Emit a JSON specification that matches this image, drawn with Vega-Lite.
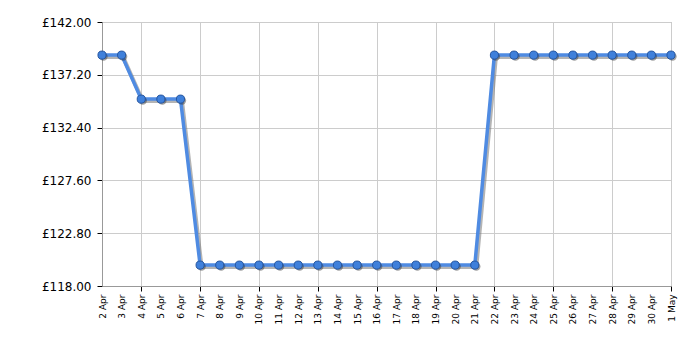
{
  "$schema": "https://vega.github.io/schema/vega-lite/v6.json",
  "width": 569,
  "height": 264,
  "autosize": {"type": "none"},
  "padding": {"left": 102, "top": 22, "right": 29, "bottom": 64},
  "background": "white",
  "config": {
    "view": {"stroke": "#aaaaaa", "strokeWidth": 1},
    "font": "DejaVu Sans"
  },
  "data": {
    "values": [
      {"date": "2024-04-02", "price": 138.99},
      {"date": "2024-04-03", "price": 138.99},
      {"date": "2024-04-04", "price": 134.99},
      {"date": "2024-04-05", "price": 134.99},
      {"date": "2024-04-06", "price": 134.99},
      {"date": "2024-04-07", "price": 119.9},
      {"date": "2024-04-08", "price": 119.9},
      {"date": "2024-04-09", "price": 119.9},
      {"date": "2024-04-10", "price": 119.9},
      {"date": "2024-04-11", "price": 119.9},
      {"date": "2024-04-12", "price": 119.9},
      {"date": "2024-04-13", "price": 119.9},
      {"date": "2024-04-14", "price": 119.9},
      {"date": "2024-04-15", "price": 119.9},
      {"date": "2024-04-16", "price": 119.9},
      {"date": "2024-04-17", "price": 119.9},
      {"date": "2024-04-18", "price": 119.9},
      {"date": "2024-04-19", "price": 119.9},
      {"date": "2024-04-20", "price": 119.9},
      {"date": "2024-04-21", "price": 119.9},
      {"date": "2024-04-22", "price": 138.99},
      {"date": "2024-04-23", "price": 138.99},
      {"date": "2024-04-24", "price": 138.99},
      {"date": "2024-04-25", "price": 138.99},
      {"date": "2024-04-26", "price": 138.99},
      {"date": "2024-04-27", "price": 138.99},
      {"date": "2024-04-28", "price": 138.99},
      {"date": "2024-04-29", "price": 138.99},
      {"date": "2024-04-30", "price": 138.99},
      {"date": "2024-05-01", "price": 138.99}
    ]
  },
  "encoding": {
    "x": {
      "field": "date",
      "type": "temporal",
      "scale": {"type": "utc", "nice": false, "padding": 0},
      "axis": {
        "title": null,
        "tickCount": {"interval": "day", "step": 1},
        "labelExpr": "utcFormat(datum.value, '%-d %b')",
        "labelAngle": 270,
        "labelAlign": "right",
        "labelBaseline": "middle",
        "labelFontSize": 9,
        "labelColor": "#000000",
        "labelPadding": 3,
        "labelOverlap": false,
        "labelFlush": false,
        "domainColor": "#999999",
        "grid": true,
        "gridColor": {"condition": {"test": "round((datum.value - 1711929600000)/86400000) % 3 == 0", "value": "#cccccc"}, "value": "transparent"},
        "tickColor": {"condition": {"test": "round((datum.value - 1711929600000)/86400000) % 3 == 0", "value": "#000000"}, "value": "transparent"},
        "tickSize": 5
      }
    },
    "y": {
      "field": "price",
      "type": "quantitative",
      "scale": {"domain": [118, 142], "nice": false, "zero": false},
      "axis": {
        "title": null,
        "values": [118, 122.8, 127.6, 132.4, 137.2, 142],
        "labelExpr": "'£' + format(datum.value, '.2f')",
        "labelFontSize": 12,
        "labelColor": "#000000",
        "labelPadding": 6,
        "domainColor": "#999999",
        "gridColor": "#cccccc",
        "tickColor": "#000000",
        "tickSize": 5
      }
    }
  },
  "layer": [
    {"mark": {"type": "line", "color": "#777777", "opacity": 0.55, "strokeWidth": 4, "xOffset": 1.5, "yOffset": 2}},
    {"mark": {"type": "line", "color": "#4f8be2", "strokeWidth": 3.5}},
    {"mark": {"type": "circle", "size": 70, "color": "#333333", "opacity": 0.45, "xOffset": 1.5, "yOffset": 1.5}},
    {"mark": {"type": "circle", "size": 66, "fill": "#3f80db", "stroke": "#25559f", "strokeWidth": 1, "opacity": 1}}
  ]
}
